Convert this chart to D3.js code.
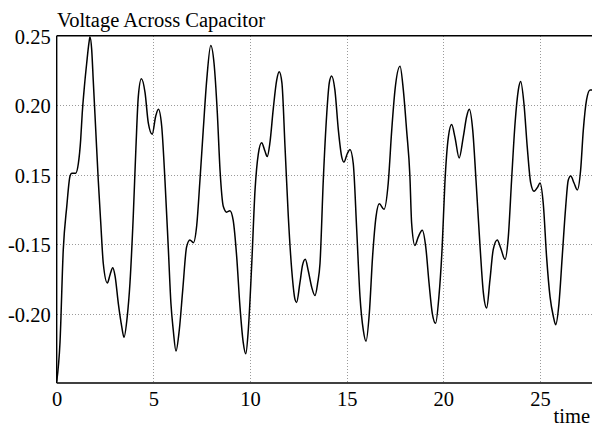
<!DOCTYPE html>
<html>
<head>
<meta charset="utf-8">
<script src="https://cdn.jsdelivr.net/npm/d3@7"></script>
<style>
  html, body { margin: 0; padding: 0; background: #fff; }
  svg { display: block; }
  text { font-family: "Liberation Serif", "DejaVu Serif", serif; fill: #000; }
</style>
</head>
<body>
<svg id="chart" width="592" height="428"></svg>
<script>
// ---- data ----
const title = "Voltage Across Capacitor";
const xLabel = "time";
const xTickValues = [0, 5, 10, 15, 20, 25];
// underlying positions of the y grid lines and the labels printed there
const yTickValues = [0.05, 0.10, 0.15, 0.20, 0.25];
const yTickLabels = ["-0.20", "-0.15", "0.15", "0.20", "0.25"];

const time = [
  0.00, 0.17, 0.34, 0.52, 0.69, 0.78, 0.98, 1.12, 1.24, 1.32, 1.43, 1.55, 1.67, 1.72, 1.81, 1.89,
  2.02, 2.15, 2.28, 2.41, 2.62, 2.76, 2.90, 3.02, 3.19, 3.36, 3.48, 3.65, 3.79, 3.96, 4.10, 4.22,
  4.38, 4.57, 4.74, 4.94, 5.12, 5.26, 5.43, 5.60, 5.77, 5.91, 6.03, 6.17, 6.34, 6.52, 6.72, 6.89,
  7.07, 7.24, 7.41, 7.58, 7.76, 7.97, 8.14, 8.31, 8.45, 8.62, 8.79, 8.96, 9.13, 9.31, 9.48, 9.65,
  9.78, 9.91, 10.09, 10.26, 10.43, 10.60, 10.77, 10.89, 11.03, 11.20, 11.38, 11.51, 11.65, 11.81,
  11.98, 12.16, 12.33, 12.41, 12.58, 12.72, 12.86, 13.01, 13.19, 13.36, 13.50, 13.62, 13.79, 13.97,
  14.10, 14.22, 14.39, 14.57, 14.74, 14.86, 15.03, 15.17, 15.34, 15.52, 15.69, 15.86, 16.00, 16.17,
  16.34, 16.52, 16.69, 16.93, 17.15, 17.33, 17.50, 17.76, 17.93, 18.10, 18.27, 18.36, 18.53, 18.70,
  18.91, 19.09, 19.26, 19.43, 19.60, 19.77, 19.94, 20.08, 20.26, 20.43, 20.60, 20.82, 21.03, 21.21,
  21.34, 21.52, 21.69, 21.90, 22.07, 22.24, 22.41, 22.58, 22.79, 22.97, 23.19, 23.36, 23.53, 23.71,
  23.88, 24.00, 24.17, 24.34, 24.52, 24.69, 24.88, 25.00, 25.17, 25.34, 25.52, 25.69, 25.81, 25.98,
  26.15, 26.33, 26.46, 26.59, 26.76, 26.93, 27.10, 27.24, 27.41, 27.59, 27.69
];
const voltage = [
  0.001, 0.029, 0.096, 0.127, 0.149, 0.151, 0.151, 0.158, 0.175, 0.194, 0.213, 0.230, 0.245, 0.249, 0.240, 0.218,
  0.182, 0.146, 0.115, 0.086, 0.072, 0.078, 0.083, 0.077, 0.057, 0.041, 0.033, 0.048, 0.072, 0.120, 0.170, 0.206,
  0.219, 0.209, 0.187, 0.179, 0.192, 0.197, 0.185, 0.146, 0.098, 0.057, 0.038, 0.023, 0.038, 0.067, 0.098, 0.103,
  0.101, 0.113, 0.146, 0.182, 0.218, 0.243, 0.230, 0.194, 0.153, 0.127, 0.123, 0.124, 0.117, 0.091, 0.055, 0.029,
  0.021, 0.038, 0.086, 0.139, 0.165, 0.173, 0.167, 0.163, 0.173, 0.197, 0.218, 0.224, 0.216, 0.170,
  0.120, 0.081, 0.060, 0.058, 0.072, 0.085, 0.089, 0.081, 0.069, 0.063, 0.072, 0.086, 0.146, 0.194,
  0.216, 0.221, 0.211, 0.182, 0.163, 0.159, 0.165, 0.168, 0.158, 0.110, 0.062, 0.038, 0.030, 0.050,
  0.091, 0.120, 0.129, 0.125, 0.144, 0.182, 0.211, 0.228, 0.211, 0.182, 0.149, 0.115, 0.099, 0.105,
  0.110, 0.098, 0.072, 0.050, 0.043, 0.062, 0.098, 0.144, 0.177, 0.186, 0.177, 0.162, 0.177, 0.192,
  0.197, 0.182, 0.146, 0.098, 0.065, 0.054, 0.074, 0.096, 0.103, 0.097, 0.089, 0.105, 0.146, 0.187,
  0.211, 0.217, 0.201, 0.170, 0.144, 0.138, 0.141, 0.144, 0.129, 0.091, 0.062, 0.048, 0.042, 0.057,
  0.091, 0.127, 0.146, 0.149, 0.144, 0.139, 0.153, 0.182, 0.204, 0.211, 0.211
];

// ---- layout ----
const plotLeft = 56.7, plotTop = 35.7, plotBottom = 383, plotRight = 592;
const fontSize = 20.5;

const svg = d3.select("#chart");

const x = d3.scaleLinear().domain([0, 27.69]).range([plotLeft, plotRight]);
const y = d3.scaleLinear().domain([0, 0.25]).range([plotBottom, plotTop]);

// grid
const grid = svg.append("g").attr("stroke", "#9a9a9a").attr("stroke-width", 1)
  .attr("stroke-dasharray", "1,2").attr("shape-rendering", "crispEdges");
grid.selectAll("line.v").data(xTickValues.filter(d => d > 0)).join("line")
  .attr("class", "v")
  .attr("x1", d => Math.round(x(d)) + 0.5).attr("x2", d => Math.round(x(d)) + 0.5)
  .attr("y1", plotTop).attr("y2", plotBottom);
grid.selectAll("line.h").data(yTickValues.filter(d => d < 0.25)).join("line")
  .attr("class", "h")
  .attr("y1", d => Math.round(y(d)) + 0.5).attr("y2", d => Math.round(y(d)) + 0.5)
  .attr("x1", plotLeft).attr("x2", plotRight);

// clip for curve
svg.append("clipPath").attr("id", "plotclip").append("rect")
  .attr("x", plotLeft).attr("y", plotTop - 2).attr("width", plotRight - plotLeft).attr("height", plotBottom - plotTop + 2);

const pts = time.map((t, i) => [t, voltage[i]]);
const line = d3.line().x(d => x(d[0])).y(d => y(d[1])).curve(d3.curveMonotoneX);
svg.append("path").datum(pts)
  .attr("clip-path", "url(#plotclip)")
  .attr("d", line)
  .attr("fill", "none").attr("stroke", "#000").attr("stroke-width", 1.5)
  .attr("stroke-linejoin", "round");

// frame: top, left, bottom
const frame = svg.append("g").attr("stroke", "#000").attr("stroke-width", 1.4);
frame.append("line").attr("x1", plotLeft).attr("x2", plotRight).attr("y1", plotTop).attr("y2", plotTop);
frame.append("line").attr("x1", plotLeft).attr("x2", plotLeft).attr("y1", plotTop).attr("y2", plotBottom);
frame.append("line").attr("x1", plotLeft).attr("x2", plotRight).attr("y1", plotBottom).attr("y2", plotBottom);

// axes (labels only)
const xAxis = d3.axisBottom(x).tickValues(xTickValues).tickSize(0).tickPadding(8)
  .tickFormat(d3.format("d"));
const gx = svg.append("g").attr("transform", `translate(0,${plotBottom})`).call(xAxis);
gx.select(".domain").remove();
gx.selectAll("text").style("font-size", fontSize + "px").style("font-family", "Liberation Serif, serif").attr("fill", "#000");

const yAxis = d3.axisLeft(y).tickValues(yTickValues).tickSize(0).tickPadding(6)
  .tickFormat((d, i) => yTickLabels[i]);
const gy = svg.append("g").attr("transform", `translate(${plotLeft},0)`).call(yAxis);
gy.select(".domain").remove();
gy.selectAll("text").style("font-size", fontSize + "px").style("font-family", "Liberation Serif, serif")
  .attr("fill", "#000").attr("dy", "0.38em");

// title and x label
svg.append("text").attr("x", 57).attr("y", 26.5).style("font-size", fontSize + "px").text(title);
svg.append("text").attr("x", 590).attr("y", 423).attr("text-anchor", "end")
  .style("font-size", fontSize + "px").text(xLabel);
</script>
</body>
</html>
